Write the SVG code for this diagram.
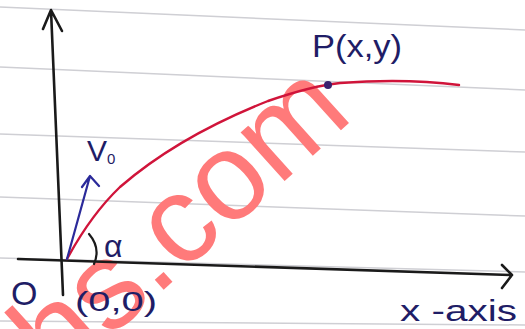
<svg xmlns="http://www.w3.org/2000/svg" width="525" height="329" viewBox="0 0 525 329">
<style>
.paper{stroke:#cfcfd4;stroke-width:1.5;fill:none}
.axis{stroke:#1a1a1a;stroke-width:2.6;fill:none;stroke-linecap:round;stroke-linejoin:round}
.lbl{font-family:"Liberation Sans","DejaVu Sans",sans-serif;fill:#1f1d66}
.blue{stroke:#2b2a9a;stroke-width:2.2;fill:none;stroke-linecap:round;stroke-linejoin:round}
</style>
<rect width="525" height="329" fill="#ffffff"/>
<g id="paper-lines">
<path class="paper" d="M0 7 L525 30"/>
<path class="paper" d="M0 67 L525 90"/>
<path class="paper" d="M0 134 L525 152"/>
<path class="paper" d="M0 197 L525 216"/>
<path class="paper" d="M0 258 L525 272"/>
<path class="paper" d="M0 321 L525 325"/>
</g>
<g id="watermark">
<text x="0" y="0" transform="translate(58 385) rotate(-42)" font-family="Liberation Sans, Arial, sans-serif" font-size="124" fill="#ff7a7a">hs.com</text>
</g>
<g id="connectors">
<path id="y-axis" class="axis" d="M63 295 L51 10 M43 29 L51 10 L62 31"/>
<path id="x-axis" class="axis" d="M18 259 L512 275 M502 265 L512 275 L502 288"/>
<path id="trajectory" d="M67 259 C80 235 96 210 120 187 C165 148 220 120 268 101 C300 90 320 85 340 83 C380 80 420 80 459 85" fill="none" stroke="#d0143a" stroke-width="2.4" stroke-linecap="round"/>
<path id="v0-arrow" class="blue" d="M67 259 L90 176 M82 187 L90 176 L99 186"/>
<path id="alpha-arc" d="M89 234 Q101 248 94 264" fill="none" stroke="#1a1a1a" stroke-width="2.2" stroke-linecap="round"/>
</g>
<g id="point-P">
<circle cx="328" cy="85" r="4" fill="#3a1f6e"/>
<text class="lbl" x="312" y="57" font-size="32" textLength="90" lengthAdjust="spacingAndGlyphs">P(x,y)</text>
</g>
<g id="v0-label">
<text class="lbl" x="87" y="161" font-size="30">V<tspan font-size="15" dy="3">0</tspan></text>
</g>
<g id="alpha-label">
<text class="lbl" x="104" y="257" font-size="32">α</text>
</g>
<g id="origin-O">
<text class="lbl" x="11" y="305" font-size="34">O</text>
</g>
<g id="origin-coords">
<text class="lbl" x="75" y="311" font-size="28" textLength="82" lengthAdjust="spacingAndGlyphs">(0,0)</text>
</g>
<g id="x-axis-label">
<text class="lbl" x="400" y="321" font-size="30" textLength="117" lengthAdjust="spacingAndGlyphs">x -axis</text>
</g>
</svg>
